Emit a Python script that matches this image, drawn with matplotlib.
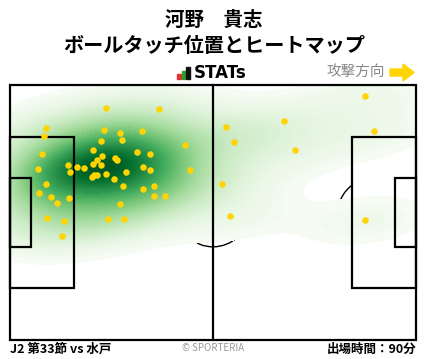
import numpy as np
import matplotlib
matplotlib.use('Agg')
import matplotlib.pyplot as plt
import seaborn as sns
from matplotlib.colors import ListedColormap
from matplotlib.patches import Rectangle, Arc, Circle, Polygon

plt.rcParams['font.family'] = ['Noto Sans CJK JP', 'DejaVu Sans']

# ball touches, pitch metres (x: own goal -> attack, y: from bottom touchline)
touch_x = [24.9, 38.6, 9.4, 8.9, 24.4, 28.5, 34.2, 29.0, 23.6, 45.3,
           8.4, 21.5, 23.9, 27.2, 27.7, 32.9, 36.3, 22.6, 21.5, 23.6,
           15.1, 17.4, 19.2, 7.3, 15.5, 34.5, 36.3, 46.5, 30.1, 24.9,
           22.6, 21.8, 21.3, 27.0, 9.4, 29.3, 37.3, 34.5, 7.6, 10.7,
           15.3, 37.3, 40.2, 12.2, 28.5, 9.6, 14.0, 25.4, 29.6, 13.5,
           91.9, 94.2, 55.9, 70.9, 58.0, 73.8, 54.9, 57.0, 91.9]
touch_y = [61.8, 61.5, 56.5, 54.3, 55.9, 55.1, 55.7, 53.3, 53.0, 51.9,
           49.5, 50.6, 49.0, 48.5, 47.9, 50.1, 49.5, 47.9, 46.9, 46.6,
           46.6, 46.1, 45.8, 45.5, 44.7, 46.1, 45.3, 45.3, 44.7, 44.2,
           43.9, 43.9, 43.4, 42.9, 41.5, 41.0, 41.0, 40.2, 39.1, 38.1,
           37.8, 38.3, 38.3, 36.5, 36.2, 32.5, 31.7, 32.2, 32.2, 27.7,
           65.0, 55.7, 56.7, 58.3, 52.7, 50.6, 41.5, 33.0, 31.9]

player = '河野\u3000貴志'
subtitle = 'ボールタッチ位置とヒートマップ'
match_label = 'J2 第33節 vs 水戸'
minutes_label = '出場時間：90分'

W, H = 428, 359
fig = plt.figure(figsize=(W / 100, H / 100), dpi=100)
ax = fig.add_axes([10 / W, 19 / H, 406 / W, 255 / H])

# lines hidden by the heatmap
ax.add_patch(Circle((52.5, 34), 9.15, fill=False, lw=1, color='black', zorder=1))
ax.add_patch(Arc((94, 34), 18.3, 18.3, theta1=127, theta2=233, lw=1, color='black', zorder=1))

greens = ListedColormap(plt.get_cmap('Greens')(np.linspace(0, 0.93, 256) ** 0.8))
sns.kdeplot(x=touch_x, y=touch_y, fill=True, cmap=greens, levels=60, thresh=0.01,
            bw_adjust=1.1, clip=((0, 105), (0, 68)), ax=ax, zorder=2)

lc = dict(fill=False, lw=1.6, edgecolor='black', zorder=3, clip_on=False)
ax.add_patch(Rectangle((0, 0), 105, 68, **lc))
ax.add_patch(Rectangle((0, 13.84), 16.5, 40.32, **lc))
ax.add_patch(Rectangle((0, 24.84), 5.5, 18.32, **lc))
ax.add_patch(Rectangle((88.5, 13.84), 16.5, 40.32, **lc))
ax.add_patch(Rectangle((99.5, 24.84), 5.5, 18.32, **lc))
ax.plot([52.5, 52.5], [0, 68], color='black', lw=1.6, zorder=3)

ax.scatter(touch_x, touch_y, s=22, c='#ffd400', linewidths=0, zorder=5)
ax.set_xlim(0, 105)
ax.set_ylim(0, 68)
ax.axis('off')

fig.text(0.5, 1 - 20 / H, player, ha='center', va='center', fontsize=14, fontweight='bold')
fig.text(0.5, 1 - 45 / H, subtitle, ha='center', va='center', fontsize=14.5, fontweight='bold')

# STATs logo
for x0, h, col in [(177, 5, '#e03030'), (181.5, 8, '#2ca02c'), (186, 12, '#111111')]:
    fig.patches.append(Rectangle((x0 / W, 1 - 79 / H), 3.5 / W, h / H,
                                 transform=fig.transFigure, color=col))
fig.text(194 / W, 1 - 72.5 / H, 'STATs', ha='left', va='center', fontsize=12,
         fontweight='bold', family='DejaVu Sans')

fig.text(385 / W, 1 - 72 / H, '攻撃方向', ha='right', va='center', fontsize=10.5, color='#888888')
arrow = [(390, 69), (403, 69), (403, 64), (414, 72.5), (403, 81), (403, 76), (390, 76)]
fig.patches.append(Polygon([(x / W, 1 - y / H) for x, y in arrow], closed=True,
                           transform=fig.transFigure, color='#ffd400'))

fig.text(10 / W, 1 - 349 / H, match_label, ha='left', va='center', fontsize=9, fontweight='bold')
fig.text(213 / W, 1 - 348 / H, '© SPORTERIA', ha='center', va='center', fontsize=7, color='#999999')
fig.text(416 / W, 1 - 349 / H, minutes_label, ha='right', va='center', fontsize=9, fontweight='bold')

fig.savefig('out.png', dpi=100)
